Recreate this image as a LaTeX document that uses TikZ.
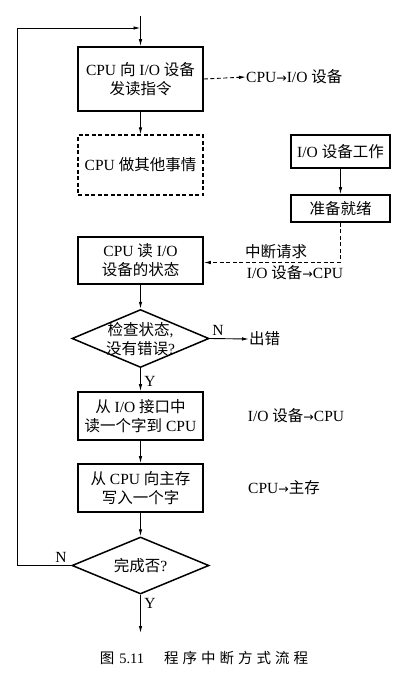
\documentclass[tikz,border=0pt]{standalone}
\usepackage{fontspec}
\setmainfont{Liberation Serif}
\newfontfamily\cjk{Noto Sans CJK SC}
\newfontfamily\symf{DejaVu Sans}
\newcommand\zh[1]{{\cjk #1}}
\newcommand\rarr{{\symf\fontsize{12.5}{12.5}\selectfont\raisebox{0.5pt}{→}}}
\usetikzlibrary{shapes.geometric,arrows.meta}
\begin{document}
\begin{tikzpicture}[x=1pt,y=-1pt,
  every node/.style={font=\fontsize{15.5}{19}\selectfont, inner sep=0pt},
  procbox/.style={draw, line width=1.7pt, minimum width=125pt, align=center},
  dashbox/.style={draw, line width=1.1pt, dash pattern=on 4pt off 2.5pt, minimum width=125pt, minimum height=60pt, align=center},
  iobox/.style={draw, line width=1.7pt, minimum width=99pt, align=center},
  decide/.style={draw, diamond, line width=1.5pt, minimum width=137pt, minimum height=58pt, inner sep=0pt},
  txt/.style={align=center},
  arr/.style={-{Latex[length=7pt,width=3.5pt]}, line width=0.9pt},
  darr/.style={arr, dash pattern=on 4pt off 2.5pt}
]
\useasboundingbox (0,0) rectangle (401,681);
% main column
\node[procbox, minimum height=64pt] (b1) at (140.5,79) {CPU \zh{向} I/O \zh{设备}\\\zh{发读指令}};
\node[dashbox] (b2) at (140.5,165) {CPU \zh{做其他事情}};
\node[iobox, minimum height=33pt] (iow) at (340.5,151.5) {I/O \zh{设备工作}};
\node[iobox, minimum height=27pt] (rdy) at (340.5,208.5) {\zh{准备就绪}};
\node[procbox, minimum height=47pt] (b3) at (140.5,260.5) {CPU \zh{读} I/O\\\zh{设备的状态}};
\node[decide] (d1) at (140.5,338.5) {};
\node[txt] (d1t) at (140.5,339) {\zh{检查状态},\\\zh{没有错误}?};
\node[procbox, minimum height=48pt] (b4) at (140.5,416) {\zh{从} I/O \zh{接口中}\\\zh{读一个字到} CPU};
\node[procbox, minimum height=48pt] (b5) at (140.5,488) {\zh{从} CPU \zh{向主存}\\\zh{写入一个字}};
\node[decide, minimum height=57pt] (d2) at (140.5,565.5) {};
\node[txt] (d2t) at (140.5,566) {\zh{完成否}?};
% side labels
\node[anchor=west] (l1) at (246,77) {CPU\rarr I/O \zh{设备}};
\node (l2) at (276,252) {\zh{中断请求}};
\node (l3) at (295,273) {I/O \zh{设备}\rarr CPU};
\node[anchor=west] (err) at (249,339) {\zh{出错}};
\node (l4) at (296,416) {I/O \zh{设备}\rarr CPU};
\node (l5) at (284,488) {CPU\rarr\zh{主存}};
\node (n1) at (218,330) {N};
\node (y1) at (150,381) {Y};
\node (n2) at (61,557) {N};
\node (y2) at (150,603) {Y};
\node (cap) at (204,658) {\fontsize{14.5}{16}\selectfont\zh{图}\hspace{5pt}5.11\hspace{20pt}\zh{程\hspace{4pt}序\hspace{4pt}中\hspace{4pt}断\hspace{4pt}方\hspace{4pt}式\hspace{4pt}流\hspace{4pt}程}};
% coordinates
\coordinate (top) at (140.5,16);
\coordinate (loopin) at (140.5,28);
\coordinate (lc1) at (17,565.5);
\coordinate (lc2) at (17,28);
\coordinate (bend) at (340.5,262.5);
\coordinate (endp) at (140.5,633);
% connectors
\draw[arr] (top) -- (b1.north);
\draw[arr] (b1.south) -- (b2.north);
\draw[darr] (b1.east) -- (l1.west);
\draw[arr] (iow.south) -- (rdy.north);
\draw[line width=0.9pt, dash pattern=on 4pt off 2.5pt] (rdy.south) -- (bend);
\draw[darr] (bend) -- (b3.east |- bend);
\draw[arr] (b3.south) -- (d1.north);
\draw[arr] (d1.east) -- (err.west);
\draw[arr] (d1.south) -- (b4.north);
\draw[arr] (b4.south) -- (b5.north);
\draw[arr] (b5.south) -- (d2.north);
\draw[arr] (d2.south) -- (endp);
\draw[arr] (d2.west) -- (lc1) -- (lc2) -- (loopin);
\end{tikzpicture}
\end{document}
